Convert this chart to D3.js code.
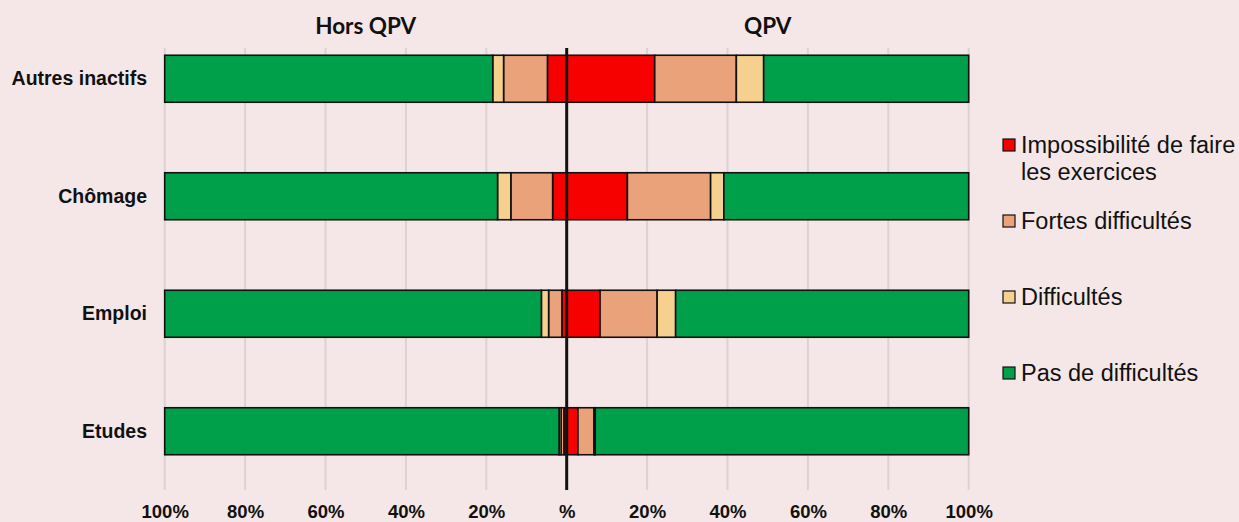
<!DOCTYPE html>
<html>
<head>
<meta charset="utf-8">
<script src="https://cdn.jsdelivr.net/npm/d3@7"></script>
<style>
  html, body { margin: 0; padding: 0; background: #f5e7e8; }
  svg { display: block; }
</style>
</head>
<body>
<svg id="chart"></svg>
<script>
// Data
const categories = ["Autres inactifs", "Chômage", "Emploi", "Etudes"];
const seriesNames = ["Impossibilité de faire les exercices", "Fortes difficultés", "Difficultés", "Pas de difficultés"];
const sideNames = ["Hors QPV", "QPV"];

// Hors QPV, in %, one array per series (same order as categories)
const horsImpossible = [4.8, 3.5, 1.2, 0.7];
const horsFortes = [10.9, 10.4, 3.3, 0.7];
const horsDiff = [2.7, 3.3, 1.8, 0.5];
const horsPas = [81.6, 82.8, 93.7, 98.1];

// QPV
const qpvImpossible = [21.9, 15.1, 8.3, 2.8];
const qpvFortes = [20.3, 20.7, 14.2, 4.0];
const qpvDiff = [6.8, 3.3, 4.6, 0.3];
const qpvPas = [51.0, 60.9, 72.9, 92.9];

const tickValues = [-100, -80, -60, -40, -20, 0, 20, 40, 60, 80, 100];
const colors = ["#f60000", "#eaa27a", "#f5d08f", "#00a04b"];

let width = 1239,
  height = 522;

const sans = "'Liberation Sans', Arial, sans-serif";

let svg = d3.select("#chart").attr("width", width).attr("height", height);

const keys = ["impossible", "fortes", "diff", "pas"];
const colorScale = d3.scaleOrdinal().domain(keys).range(colors);

// tables for d3.stack
const horsData = categories.map((c, i) => ({
  cat: c,
  impossible: horsImpossible[i],
  fortes: horsFortes[i],
  diff: horsDiff[i],
  pas: horsPas[i],
}));
const qpvData = categories.map((c, i) => ({
  cat: c,
  impossible: qpvImpossible[i],
  fortes: qpvFortes[i],
  diff: qpvDiff[i],
  pas: qpvPas[i],
}));

let x = d3.scaleLinear().domain([-100, 100]).range([164.7, 968.7]);
let y = d3
  .scaleBand()
  .domain(categories)
  .range([20, 490])
  .paddingInner(0.6)
  .paddingOuter(0.3);

const gridTop = 48,
  gridBottom = 490;

// grid lines
svg
  .append("g")
  .attr("id", "grid")
  .selectAll("line")
  .data(tickValues.filter((d) => d !== 0))
  .enter()
  .append("line")
  .attr("x1", (d) => x(d))
  .attr("x2", (d) => x(d))
  .attr("y1", gridTop)
  .attr("y2", gridBottom)
  .attr("stroke", "#dcd2d3")
  .attr("stroke-width", 2);

const stack = d3.stack().keys(keys);

function drawSide(data, sign, id) {
  const layers = stack(data);
  svg
    .append("g")
    .attr("id", id)
    .selectAll("g")
    .data(layers)
    .enter()
    .append("g")
    .attr("fill", (d) => colorScale(d.key))
    .selectAll("rect")
    .data((d) => d)
    .enter()
    .append("rect")
    .attr("x", (d) => Math.min(x(sign * d[0]), x(sign * d[1])))
    .attr("width", (d) => Math.abs(x(sign * d[1]) - x(sign * d[0])))
    .attr("y", (d) => y(d.data.cat))
    .attr("height", y.bandwidth())
    .attr("stroke", "#111")
    .attr("stroke-width", 1.6);
}

drawSide(horsData, -1, "hors");
drawSide(qpvData, 1, "qpv");

// center line
svg
  .append("line")
  .attr("x1", x(0))
  .attr("x2", x(0))
  .attr("y1", gridTop)
  .attr("y2", gridBottom)
  .attr("stroke", "#111")
  .attr("stroke-width", 3);

// x axis
let xAxis = d3
  .axisBottom(x)
  .tickValues(tickValues)
  .tickSize(0)
  .tickPadding(0)
  .tickFormat((d) => (d === 0 ? "%" : Math.abs(d) + "%"));

let gx = svg.append("g").attr("transform", "translate(0,503)").call(xAxis);
gx.select(".domain").remove();
gx.selectAll("text")
  .attr("dy", "0.8em")
  .style("font-family", sans)
  .style("font-weight", "bold")
  .style("font-size", "18.5px")
  .attr("fill", "#111");

// category labels
let yAxis = d3.axisLeft(y).tickSize(0).tickPadding(0);
let gy = svg.append("g").attr("transform", "translate(147,0)").call(yAxis);
gy.select(".domain").remove();
gy.selectAll("text")
  .style("font-family", sans)
  .style("font-weight", "bold")
  .style("font-size", "19.5px")
  .attr("fill", "#111");

// side headers
svg
  .append("g")
  .selectAll("text")
  .data(sideNames)
  .enter()
  .append("text")
  .attr("x", (d, i) => (i === 0 ? x(-50) : x(50)))
  .attr("y", 34)
  .attr("text-anchor", "middle")
  .style("font-family", "Lato, 'Open Sans', sans-serif")
  .style("font-weight", "bold")
  .style("font-size", "22.5px")
  .attr("fill", "#111")
  .text((d) => d);

// legend
const legendY = [145, 221, 297, 373];
let legend = svg
  .append("g")
  .attr("id", "legend")
  .selectAll("g")
  .data(keys)
  .enter()
  .append("g")
  .attr("transform", (d, i) => `translate(1003,${legendY[i]})`);

legend
  .append("rect")
  .attr("x", 0)
  .attr("y", -6)
  .attr("width", 12)
  .attr("height", 12)
  .attr("fill", (d) => colorScale(d))
  .attr("stroke", "#111")
  .attr("stroke-width", 1.2);

legend
  .append("text")
  .attr("x", 18)
  .attr("y", 8)
  .style("font-family", sans)
  .style("font-size", "23.5px")
  .attr("fill", "#111")
  .each(function (d, i) {
    const t = d3.select(this);
    if (i === 0) {
      t.append("tspan").attr("x", 18).text("Impossibilité de faire");
      t.append("tspan").attr("x", 18).attr("dy", 27).text("les exercices");
    } else {
      t.text(seriesNames[i]);
    }
  });
</script>
</body>
</html>
